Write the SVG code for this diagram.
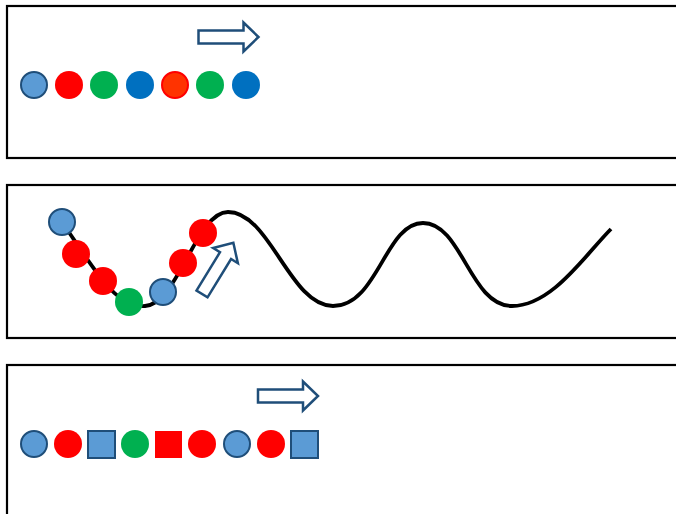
<svg xmlns="http://www.w3.org/2000/svg" width="676" height="514" viewBox="0 0 676 514">
<style>
.panel{fill:none;stroke:#000;stroke-width:2.2}
.lb{fill:#5B9BD5;stroke:#1F4E79;stroke-width:2}
.r{fill:#FF0000}
.g{fill:#00B050}
.b{fill:#0070C0}
.o{fill:#FF3300;stroke:#FF0000;stroke-width:2}
.arr{fill:#fff;stroke:#1F4E79;stroke-width:2.5;stroke-linejoin:miter}
.wave{fill:none;stroke:#000;stroke-width:3.8;stroke-linecap:butt}
</style>
<defs>
<path id="arrow" d="M0,-6.5 H45 V-14.5 L60,0 L45,14.5 V6.5 H0 Z"/>
</defs>
<rect width="676" height="514" fill="#fff"/>
<g id="panel1">
<rect class="panel" x="7" y="6" width="690" height="152"/>
<use href="#arrow" class="arr" transform="translate(198.5,37)"/>
<circle class="lb" cx="34" cy="85" r="13"/>
<circle class="r" cx="69" cy="85" r="14"/>
<circle class="g" cx="104" cy="85" r="14"/>
<circle class="b" cx="140" cy="85" r="14"/>
<circle class="o" cx="175" cy="85" r="13"/>
<circle class="g" cx="210" cy="85" r="14"/>
<circle class="b" cx="246" cy="85" r="14"/>
</g>
<g id="connectors">
<path class="wave" d="M62,222 C95,270 115,308 145,306 C178,304 196,212 228,212 C270,212 290,306 333,306 C378,306 385,223 423,223 C462,223 470,306 512,306 C552,306 585,255 611,229"/>
</g>
<g id="panel2">
<rect class="panel" x="7" y="185" width="690" height="153"/>
<circle class="lb" cx="62" cy="222" r="13"/>
<circle class="r" cx="76" cy="254" r="14"/>
<circle class="r" cx="103" cy="281" r="14"/>
<circle class="g" cx="129" cy="302" r="14"/>
<circle class="lb" cx="163" cy="292" r="13"/>
<circle class="r" cx="183" cy="263" r="14"/>
<circle class="r" cx="203" cy="233" r="14"/>
<use href="#arrow" class="arr" transform="translate(202,294) rotate(-58.5)"/>
</g>
<g id="panel3">
<rect class="panel" x="7" y="365" width="690" height="170"/>
<use href="#arrow" class="arr" transform="translate(258,396)"/>
<circle class="lb" cx="34" cy="444" r="13"/>
<circle class="r" cx="68" cy="444" r="14"/>
<rect class="lb" x="88" y="431" width="27" height="27"/>
<circle class="g" cx="135" cy="444" r="14"/>
<rect class="r" x="155" y="431" width="27" height="27"/>
<circle class="r" cx="202" cy="444" r="14"/>
<circle class="lb" cx="237" cy="444" r="13"/>
<circle class="r" cx="271" cy="444" r="14"/>
<rect class="lb" x="291" y="431" width="27" height="27"/>
</g>
</svg>
